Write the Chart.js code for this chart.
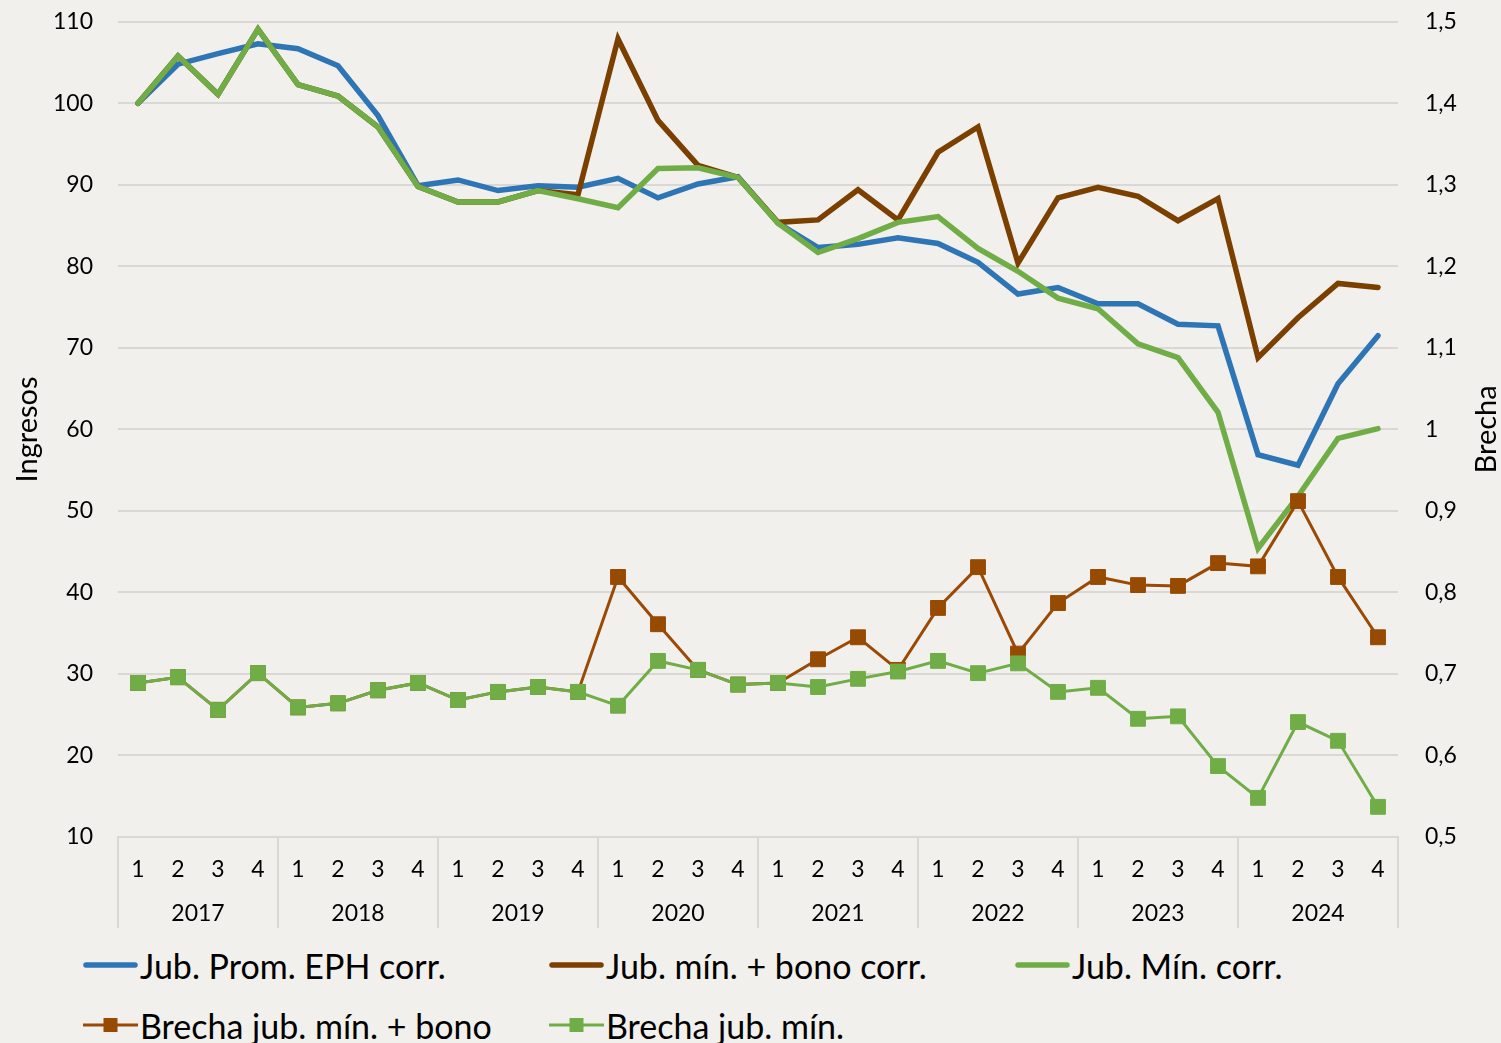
<!DOCTYPE html>
<html>
<head>
<meta charset="utf-8">
<script src="https://cdn.jsdelivr.net/npm/chart.js@4.4.0/dist/chart.umd.min.js"></script>
<style>
  body { margin: 0; background: #f1f0ec; font-family: 'Lato', sans-serif; overflow: hidden; }
  #wrap { position: absolute; left: 0; top: -19px; width: 1501px; height: 954px; }
  #leyenda { position: absolute; left: 83px; top: 935px; width: 1400px;
    display: grid; grid-template-columns: 466px 466px 466px; grid-auto-rows: 60px; }
  .item { display: flex; align-items: center; font-size: 34px; color: #000; white-space: nowrap; }
  .item svg { margin-right: 2px; }
</style>
</head>
<body>
<div id="wrap"><canvas id="grafico"></canvas></div>
<div id="leyenda"></div>
<script>
// trimestres y años
var trimestres = [];
var anios = ["2017", "2018", "2019", "2020", "2021", "2022", "2023", "2024"];
for (var a = 0; a < anios.length; a++) {
  trimestres.push("1", "2", "3", "4");
}

// Ingresos (eje izq)
var jubPromEPH = [100, 104.8, 106.1, 107.3, 106.7, 104.6, 98.5, 89.9,
  90.6, 89.3, 89.9, 89.7, 90.8, 88.4, 90.1, 91.0,
  85.3, 82.3, 82.7, 83.5, 82.8, 80.5, 76.6, 77.4,
  75.4, 75.4, 72.9, 72.7, 56.9, 55.6, 65.6, 71.5];
var jubMinBono = [100, 105.8, 101.1, 109.1, 102.3, 100.9, 97.1, 89.8,
  87.9, 87.9, 89.3, 88.8, 107.9, 97.9, 92.4, 90.9,
  85.4, 85.7, 89.4, 85.7, 94.0, 97.1, 80.4, 88.4,
  89.7, 88.6, 85.6, 88.3, 68.8, 73.7, 77.9, 77.4];
var jubMin = [100, 105.8, 101.1, 109.1, 102.3, 100.9, 97.1, 89.8,
  87.9, 87.9, 89.3, 88.3, 87.2, 92.0, 92.1, 90.9,
  85.3, 81.7, 83.4, 85.4, 86.1, 82.2, 79.4, 76.1,
  74.8, 70.5, 68.8, 62.1, 45.4, 51.8, 58.9, 60.1];

// Brecha (eje der)
var brechaBono = [0.689, 0.696, 0.656, 0.701, 0.659, 0.664, 0.680, 0.689,
  0.668, 0.678, 0.684, 0.678, 0.819, 0.761, 0.705, 0.687,
  0.689, 0.718, 0.745, 0.705, 0.781, 0.831, 0.725, 0.787,
  0.819, 0.809, 0.808, 0.836, 0.832, 0.912, 0.819, 0.745];
var brechaMin = [0.689, 0.696, 0.656, 0.701, 0.659, 0.664, 0.680, 0.689,
  0.668, 0.678, 0.684, 0.678, 0.661, 0.716, 0.705, 0.687,
  0.689, 0.684, 0.694, 0.703, 0.716, 0.701, 0.713, 0.678,
  0.683, 0.645, 0.648, 0.587, 0.548, 0.641, 0.618, 0.537];

var azul = "#2e75b6";
var marron = "#7b3f00";
var marronClaro = "#974b00";
var verde = "#70ad47";
var gris = "#d9d8d5";
var fuente = "'Lato', sans-serif";

// separadores y etiquetas de años debajo del eje
var gruposAnios = {
  id: "gruposAnios",
  afterDraw: function (chart) {
    var x = chart.scales.x;
    var ctx = chart.ctx;
    var paso = x.getPixelForValue(1) - x.getPixelForValue(0);
    ctx.save();
    ctx.strokeStyle = gris;
    ctx.lineWidth = 2;
    for (var i = 0; i <= anios.length; i++) {
      var px = x.getPixelForValue(i * 4) - paso / 2;
      ctx.beginPath();
      ctx.moveTo(px, x.top);
      ctx.lineTo(px, x.top + 91);
      ctx.stroke();
    }
    ctx.fillStyle = "#000";
    ctx.font = "23px " + fuente;
    ctx.textAlign = "center";
    ctx.textBaseline = "middle";
    for (var j = 0; j < anios.length; j++) {
      var cx = (x.getPixelForValue(j * 4) + x.getPixelForValue(j * 4 + 3)) / 2;
      ctx.fillText(anios[j], cx, x.top + 77);
    }
    // titulo eje derecho (de abajo hacia arriba)
    var y1 = chart.scales.y1;
    ctx.save();
    ctx.translate(1487, (y1.top + y1.bottom) / 2);
    ctx.rotate(-Math.PI / 2);
    ctx.font = "29px " + fuente;
    ctx.fillText("Brecha", 0, 0);
    ctx.restore();
    ctx.restore();
  }
};

function serieLinea(nombre, datos, color) {
  return {
    label: nombre, data: datos, yAxisID: "y",
    borderColor: color, backgroundColor: color,
    borderWidth: 5.5, pointRadius: 0, tension: 0,
    borderCapStyle: "round", borderJoinStyle: "miter"
  };
}
function serieBrecha(nombre, datos, color, colorPunto) {
  return {
    label: nombre, data: datos, yAxisID: "y1",
    borderColor: color, backgroundColor: colorPunto,
    pointBorderColor: colorPunto, borderWidth: 3,
    pointStyle: "rect", pointRadius: 10.5, pointBorderWidth: 1, tension: 0
  };
}

var series = [
  serieLinea("Jub. Prom. EPH corr.", jubPromEPH, azul),
  serieLinea("Jub. mín. + bono corr.", jubMinBono, marron),
  serieLinea("Jub. Mín. corr.", jubMin, verde),
  serieBrecha("Brecha jub. mín. + bono", brechaBono, "#9a4a05", marronClaro),
  serieBrecha("Brecha jub. mín.", brechaMin, verde, verde)
];
// como en Excel, la ultima serie queda arriba
series.forEach(function (s, i) { s.order = -i; });

const ctx = document.getElementById("grafico");
new Chart(ctx, {
  type: "line",
  data: { labels: trimestres, datasets: series },
  options: {
    responsive: true,
    maintainAspectRatio: false,
    animation: false,
    layout: { padding: { top: 4, left: 0, right: 0, bottom: 0 } },
    plugins: { legend: { display: false }, tooltip: { enabled: false } },
    scales: {
      x: {
        offset: true,
        grid: { display: false },
        border: { display: true, color: gris, width: 2 },
        ticks: { color: "#000", font: { family: fuente, size: 23 }, padding: 11, maxRotation: 0, autoSkip: false },
        afterFit: function (s) { s.height = 98; }
      },
      y: {
        position: "left", min: 10, max: 110,
        ticks: { stepSize: 10, color: "#000", font: { family: fuente, size: 23 }, padding: 25 },
        grid: { color: gris, lineWidth: 2, drawTicks: false },
        border: { display: false },
        title: { display: true, text: "Ingresos", color: "#000", font: { family: fuente, size: 29 }, padding: { top: 10, bottom: 0 } },
        afterFit: function (s) { s.width = 118; }
      },
      y1: {
        position: "right", min: 0.5, max: 1.5,
        ticks: {
          stepSize: 0.1, color: "#000", font: { family: fuente, size: 23 }, padding: 27,
          callback: function (v) { return String(Math.round(v * 10) / 10).replace(".", ","); }
        },
        grid: { display: false, drawTicks: false },
        border: { display: false },
        afterFit: function (s) { s.width = 103; }
      }
    }
  },
  plugins: [gruposAnios]
});

// leyenda
var leyenda = document.getElementById("leyenda");
series.forEach(function (s) {
  var muestra;
  if (s.pointRadius) {
    muestra = '<svg width="55" height="16"><line x1="0" y1="8" x2="55" y2="8" stroke="' + s.borderColor +
      '" stroke-width="3"/><rect x="20.5" y="1" width="14" height="14" fill="' + s.backgroundColor + '"/></svg>';
  } else {
    muestra = '<svg width="55" height="10"><line x1="3" y1="5" x2="52" y2="5" stroke="' + s.borderColor +
      '" stroke-width="5.5" stroke-linecap="round"/></svg>';
  }
  var d = document.createElement("div");
  d.className = "item";
  d.innerHTML = muestra + "<span>" + s.label + "</span>";
  leyenda.appendChild(d);
});
</script>
</body>
</html>
